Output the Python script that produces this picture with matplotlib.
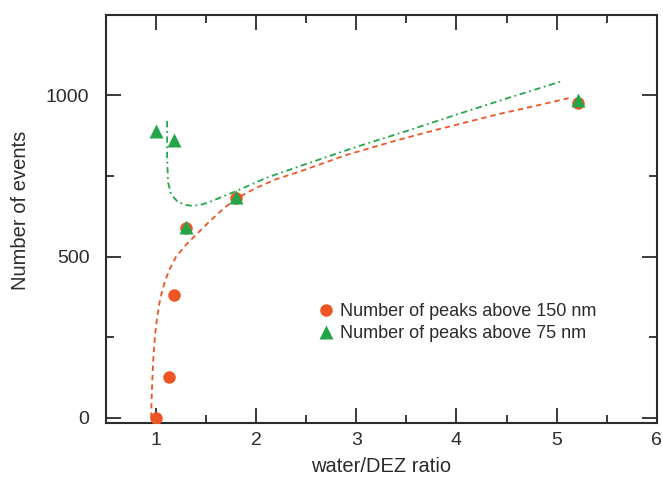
import matplotlib
matplotlib.use("Agg")
import matplotlib.pyplot as plt
from matplotlib.ticker import MultipleLocator

plt.rcParams['font.family'] = ['Liberation Sans', 'DejaVu Sans']

# measured points
ratio_150 = [1.0, 1.13, 1.18, 1.30, 1.80, 5.21]
events_150 = [0, 126, 381, 588, 681, 977]
ratio_75 = [1.0, 1.18, 1.30, 1.80, 5.21]
events_75 = [890, 862, 593, 686, 984]

# fitted trend curves
fit150_x = [0.95, 0.955, 0.963, 0.975, 0.99, 1.01, 1.04, 1.08, 1.13, 1.2,
            1.3, 1.41, 1.53, 1.66, 1.8, 2.0, 2.2, 2.43, 2.9, 3.4, 3.8,
            4.4, 4.8, 5.12]
fit150_y = [0, 60, 130, 200, 260, 312, 368, 415, 458, 500,
            537, 571, 608, 645, 680, 713, 740, 763, 815, 860, 893,
            940, 968, 991]
fit75_x = [1.11, 1.11, 1.12, 1.15, 1.217, 1.30, 1.363, 1.45, 1.533, 1.80,
           2.10, 2.433, 3.0, 3.5, 4.0, 4.5, 5.067]
fit75_y = [920, 801, 729, 693, 669, 660, 657, 661, 669, 703,
           744, 780, 840, 889, 940, 990, 1045]

label_150 = "Number of peaks above 150 nm"
label_75 = "Number of peaks above 75 nm"

red = '#EE5525'
green = '#23A64A'
ink = '#2b2b2b'

fig = plt.figure(figsize=(6.63, 4.79), dpi=100)
ax = fig.add_axes([0.160, 0.1175, 0.8305, 0.852])

ax.plot(fit150_x, fit150_y, linestyle=(0, (3.0, 2.2)), color=red, lw=1.3, zorder=2)
ax.plot(fit75_x, fit75_y, linestyle=(0, (3.5, 2.0, 1.0, 2.0)), color=green, lw=1.3, zorder=2)

ax.plot(ratio_150, events_150, 'o', color=red, ms=9, mec='none', label=label_150, zorder=3)
ax.plot(ratio_75, events_75, '^', color=green, ms=10, mec='none', label=label_75, zorder=4)

ax.set_xlim(0.5, 6)
ax.set_ylim(-15, 1250)
ax.xaxis.set_minor_locator(MultipleLocator(0.5))
ax.yaxis.set_minor_locator(MultipleLocator(250))
ax.set_xticks([1, 2, 3, 4, 5, 6])
ax.set_yticks([0, 500, 1000])

ax.tick_params(which='both', direction='in', top=True, right=True, colors=ink,
               labelcolor=ink, labelsize=14, width=1.3)
ax.tick_params(which='major', length=11)
ax.tick_params(which='minor', length=6)
ax.tick_params(axis='y', pad=12)
ax.tick_params(axis='x', pad=7)
for s in ax.spines.values():
    s.set_color(ink)
    s.set_linewidth(1.5)

ax.set_xlabel("water/DEZ ratio", fontsize=14.5, color=ink)
ax.set_ylabel("Number of events", fontsize=14.5, color=ink)
ax.xaxis.set_label_coords(0.5, -0.085)
ax.xaxis.label.set_va('top')
ax.yaxis.set_label_coords(-0.138, 0.52)

leg = ax.legend(loc='upper left', bbox_to_anchor=(0.37, 0.31), frameon=False,
                fontsize=13, handletextpad=0.25, handlelength=1.0,
                labelspacing=0.25, borderaxespad=0)
for t in leg.get_texts():
    t.set_color(ink)

fig.savefig("out.png", dpi=100)
